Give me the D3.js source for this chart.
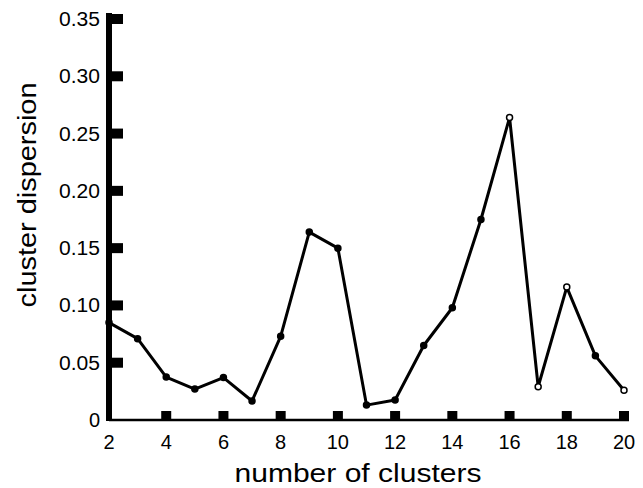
<!DOCTYPE html>
<html>
<head>
<meta charset="utf-8">
<script src="https://cdn.jsdelivr.net/npm/d3@7.9.0/dist/d3.min.js"></script>
<style>
  body { margin: 0; background: #fff; }
  text { font-family: "Liberation Sans", Arial, sans-serif; fill: #000; }
</style>
</head>
<body>
<svg id="chart" width="643" height="488"></svg>
<script>
// number of clusters vs dispersion
const clusters = [2, 3, 4, 5, 6, 7, 8, 9, 10, 11, 12, 13, 14, 15, 16, 17, 18, 19, 20];
const dispersion = [0.085, 0.071, 0.0375, 0.027, 0.037, 0.0166, 0.073, 0.164, 0.150, 0.013,
  0.0175, 0.065, 0.098, 0.175, 0.264, 0.029, 0.116, 0.056, 0.026];
const hollow = [16, 17, 18, 20];
const xTicks = [2, 4, 6, 8, 10, 12, 14, 16, 18, 20];
const yTicks = [0, 0.05, 0.10, 0.15, 0.20, 0.25, 0.30, 0.35];

const svg = d3.select('#chart');
const x = d3.scaleLinear().domain([2, 20]).range([109, 624]);
const y = d3.scaleLinear().domain([0, 0.35]).range([420, 19]);

// bottom axis
svg.append('line')
  .attr('x1', x(2)).attr('x2', 629)
  .attr('y1', y(0)).attr('y2', y(0))
  .attr('stroke', '#000').attr('stroke-width', 2.5);
svg.selectAll('.xtick').data(xTicks.slice(1)).enter()
  .append('rect')
  .attr('x', (d) => x(d) - 5).attr('y', y(0) - 9)
  .attr('width', 10).attr('height', 9)
  .attr('fill', '#000');
svg.selectAll('.xlab').data(xTicks).enter()
  .append('text')
  .attr('x', (d) => x(d)).attr('y', y(0) + 29)
  .attr('text-anchor', 'middle')
  .attr('font-size', 20)
  .text((d) => d);

// left axis, the thick one
svg.append('rect')
  .attr('x', 106).attr('y', y(0.35) - 6)
  .attr('width', 6).attr('height', y(0) - y(0.35) + 7)
  .attr('fill', '#000');
svg.selectAll('.ytick').data(yTicks.slice(1)).enter()
  .append('rect')
  .attr('x', 112).attr('y', (d) => y(d) - 5)
  .attr('width', 11).attr('height', 10)
  .attr('fill', '#000');
svg.selectAll('.ylab').data(yTicks).enter()
  .append('text')
  .attr('x', 100).attr('y', (d) => y(d) + 7)
  .attr('text-anchor', 'end')
  .attr('font-size', 20)
  .attr('textLength', (d) => d === 0 ? null : 41)
  .attr('lengthAdjust', 'spacingAndGlyphs')
  .text((d) => d === 0 ? '0' : d.toFixed(2));

// the series
const pts = clusters.map((c, i) => [c, dispersion[i]]);
svg.append('path')
  .datum(pts)
  .attr('d', d3.line().x((d) => x(d[0])).y((d) => y(d[1])))
  .attr('fill', 'none')
  .attr('stroke', '#000')
  .attr('stroke-width', 3)
  .attr('stroke-linejoin', 'round');
svg.selectAll('.dot').data(pts).enter()
  .append('circle')
  .attr('cx', (d) => x(d[0])).attr('cy', (d) => y(d[1]))
  .attr('r', 3)
  .attr('fill', (d) => hollow.includes(d[0]) ? '#fff' : '#000')
  .attr('stroke', '#000')
  .attr('stroke-width', 1.5);

// axis titles
svg.append('text')
  .attr('x', 358).attr('y', 482)
  .attr('text-anchor', 'middle')
  .attr('font-size', 26)
  .attr('textLength', 247)
  .attr('lengthAdjust', 'spacingAndGlyphs')
  .text('number of clusters');
svg.append('text')
  .attr('transform', 'translate(36,195) rotate(-90)')
  .attr('text-anchor', 'middle')
  .attr('font-size', 26)
  .attr('textLength', 225)
  .attr('lengthAdjust', 'spacingAndGlyphs')
  .text('cluster dispersion');
</script>
</body>
</html>
